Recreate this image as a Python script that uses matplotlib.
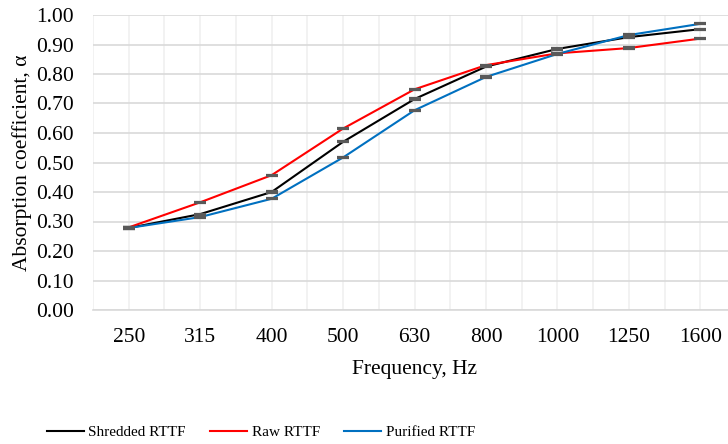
import numpy as np
import matplotlib
matplotlib.use("Agg")
import matplotlib.pyplot as plt

plt.rcParams["font.family"] = ["Liberation Serif", "DejaVu Serif"]

# data
freqs = ["250", "315", "400", "500", "630", "800", "1000", "1250", "1600"]
shredded = [0.278, 0.325, 0.400, 0.570, 0.715, 0.825, 0.885, 0.925, 0.952]
raw = [0.280, 0.365, 0.457, 0.615, 0.748, 0.830, 0.870, 0.888, 0.920]
purified = [0.278, 0.315, 0.377, 0.517, 0.677, 0.790, 0.868, 0.932, 0.970]
err = [0.002] * len(freqs)

series = [
    ("Shredded RTTF", shredded, "#000000"),
    ("Raw RTTF", raw, "#FF0000"),
    ("Purified RTTF", purified, "#0070C0"),
]

fig = plt.figure(figsize=(7.28, 4.44), dpi=100)
ax = fig.add_axes([93 / 728, (444 - 310) / 444, (736 - 93) / 728, 295 / 444])

x = np.arange(len(freqs))
for label, vals, color in series:
    ax.plot(x, vals, color=color, lw=1.5, label=label, zorder=3)
    ax.errorbar(x, vals, yerr=err, fmt="none", ecolor="#595959",
                capsize=4.5, capthick=1.6, elinewidth=1, zorder=4)

ax.set_xlim(-0.5, len(freqs) - 0.5)
ax.set_ylim(0, 1.0)
ax.set_yticks(np.arange(0, 1.01, 0.1))
ax.set_yticklabels([f"{v:.2f}" for v in np.arange(0, 1.01, 0.1)])
ax.set_xticks(x)
ax.set_xticklabels(freqs)
ax.set_xticks(np.arange(-0.5, len(freqs), 1), minor=True)

ax.grid(axis="y", which="major", color="#D9D9D9", lw=1.2, zorder=0)
ax.grid(axis="x", which="both", color="#F0F0F0", lw=1.2, zorder=0)
ax.tick_params(axis="both", which="both", length=0, labelsize=15.5)
ax.tick_params(axis="x", pad=13)
ax.tick_params(axis="y", pad=14)
for s in ["top", "right", "left"]:
    ax.spines[s].set_visible(False)
ax.spines["bottom"].set_color("#D9D9D9")
ax.spines["bottom"].set_linewidth(1.2)

ax.set_xlabel("Frequency, Hz", fontsize=15.5, labelpad=9)
ax.set_ylabel("Absorption coefficient, α", fontsize=15.5, labelpad=3)

fig.legend(loc="center", bbox_to_anchor=(261 / 728, 12 / 444),
           ncol=3, frameon=False, fontsize=11, handlelength=2.4,
           columnspacing=1.6, handletextpad=0.3)

fig.savefig("out.png", dpi=100, facecolor="white")
